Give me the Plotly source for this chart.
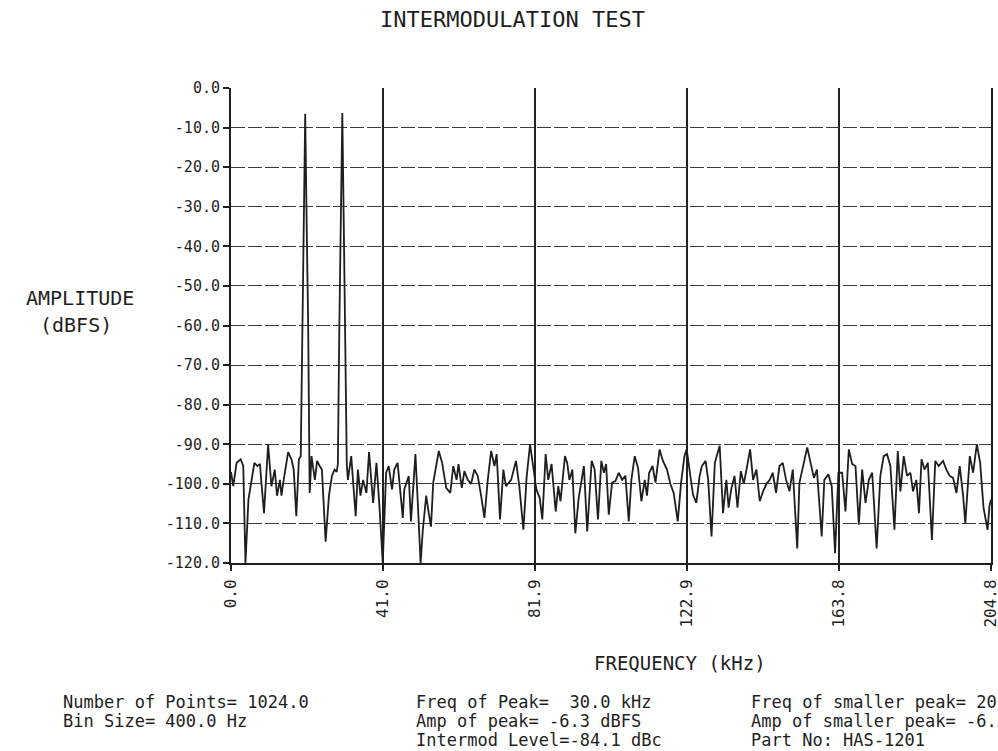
import plotly.graph_objects as go

# ---------------- data ----------------
freq_khz = [
    0.0, 0.6, 1.5, 2.6, 3.3, 3.9, 4.7, 5.5, 6.3, 7.1, 7.8, 8.2, 8.9, 10.0, 10.9,
    11.8, 12.4, 13.2, 13.6, 14.2, 15.4, 16.3, 16.9, 17.6, 18.3, 18.8, 19.2, 19.6,
    20.0, 20.4, 20.8, 21.2, 21.7, 22.6, 23.2, 23.9, 24.5, 25.5, 26.4, 27.2, 27.9,
    28.5, 28.8, 29.2, 29.6, 30.0, 30.4, 30.8, 31.2, 31.5, 32.4, 33.6, 34.2, 34.9,
    35.6, 36.5, 37.2, 38.3, 39.2, 40.0, 40.9, 41.8, 42.5, 43.4, 44.0, 44.9, 46.3,
    46.7, 47.9, 48.5, 49.7, 50.3, 51.1, 51.7, 52.6, 53.3, 53.9, 54.5, 56.0, 56.9,
    58.0, 59.1, 59.9, 60.8, 61.3, 62.2, 62.9, 63.8, 64.7, 65.6, 66.5, 67.4, 68.3,
    69.2, 70.1, 71.0, 71.6, 72.5, 73.4, 74.1, 75.5, 76.8, 77.7, 78.8, 79.7, 80.6,
    81.5, 82.3, 83.2, 83.9, 84.8, 85.5, 86.4, 87.5, 88.2, 88.8, 90.0, 90.6, 91.2,
    92.0, 92.8, 93.7, 95.1, 96.0, 97.2, 98.0, 98.9, 99.8, 100.5, 101.1, 101.8,
    102.7, 103.6, 104.5, 105.4, 106.3, 107.2, 107.9, 108.8, 109.7, 110.6, 111.5,
    112.1, 112.7, 113.6, 114.4, 115.5, 116.4, 117.5, 118.4, 119.3, 120.4, 121.3,
    122.2, 122.8, 123.6, 124.5, 125.4, 126.3, 126.9, 127.9, 128.6, 129.5, 130.4,
    131.3, 131.7, 132.6, 133.5, 134.1, 134.8, 135.7, 136.5, 137.4, 138.2, 139.1,
    139.9, 140.7, 141.6, 142.5, 143.4, 144.3, 145.2, 146.0, 146.9, 147.8, 148.7,
    149.6, 150.5, 151.4, 152.6, 153.2, 154.1, 155.3, 156.2, 157.1, 157.9, 159.2,
    159.9, 161.0, 161.9, 162.8, 163.7, 164.7, 165.6, 166.5, 167.4, 168.3, 169.2,
    170.1, 171.0, 171.9, 172.8, 174.0, 175.0, 175.9, 176.8, 177.7, 178.8, 179.7,
    180.4, 181.3, 182.2, 183.1, 183.8, 184.7, 185.4, 186.1, 186.9, 187.8, 188.9,
    189.8, 190.7, 191.9, 192.8, 193.7, 194.6, 195.5, 196.4, 197.3, 197.9, 199.1,
    200.0, 201.0, 201.9, 202.8, 203.9, 204.4, 204.8,
]
amp_dbfs = [
    -97.0, -100.6, -94.7, -93.8, -95.5, -120.0, -104.0, -99.0, -94.7, -95.5, -95.0,
    -99.7, -107.4, -90.0, -100.6, -96.4, -103.0, -99.0, -103.0, -99.0, -92.0, -93.8,
    -96.4, -108.2, -93.8, -93.0, -60.0, -35.0, -6.5, -35.0, -60.0, -102.3, -93.0,
    -99.0, -94.2, -95.5, -96.4, -114.6, -103.0, -98.0, -96.4, -97.0, -95.0, -60.0,
    -35.0, -6.3, -35.0, -60.0, -95.0, -99.0, -93.0, -108.2, -96.4, -103.0, -99.0,
    -102.3, -92.0, -104.8, -94.7, -105.6, -120.0, -97.2, -95.5, -101.4, -96.4,
    -94.7, -108.6, -101.4, -98.0, -109.5, -92.5, -104.0, -120.0, -111.6, -103.0,
    -107.4, -110.8, -99.7, -91.7, -94.7, -101.0, -102.3, -95.5, -99.0, -95.0,
    -101.0, -96.8, -99.0, -100.0, -96.4, -98.0, -103.0, -108.6, -99.0, -91.7,
    -95.5, -92.5, -109.0, -96.4, -100.6, -99.0, -94.2, -100.6, -111.6, -98.0,
    -90.0, -96.4, -101.4, -103.6, -109.0, -92.5, -99.0, -95.0, -107.0, -100.6,
    -104.4, -93.0, -94.7, -99.0, -96.4, -112.5, -103.6, -95.5, -112.0, -94.2,
    -96.4, -109.0, -94.2, -97.2, -95.0, -107.8, -99.7, -99.3, -97.2, -99.0, -98.0,
    -109.5, -99.0, -93.0, -96.0, -104.4, -99.0, -103.0, -97.2, -95.5, -99.7, -91.3,
    -94.2, -96.4, -100.0, -102.3, -109.5, -99.7, -93.0, -91.3, -96.4, -102.7,
    -104.8, -98.0, -95.5, -94.2, -99.0, -113.3, -94.7, -92.1, -90.4, -107.4, -99.0,
    -106.0, -101.4, -98.0, -106.0, -96.8, -100.0, -95.5, -91.3, -99.0, -96.4,
    -104.4, -101.9, -100.0, -99.0, -97.2, -102.3, -95.5, -94.7, -99.0, -101.9,
    -96.4, -116.3, -99.7, -95.5, -90.8, -94.7, -98.5, -96.4, -113.3, -99.0, -97.6,
    -100.6, -117.5, -97.2, -97.2, -107.0, -91.3, -95.0, -95.5, -110.3, -96.4,
    -104.8, -99.0, -97.2, -116.3, -98.0, -93.0, -92.5, -95.5, -111.6, -91.7,
    -101.9, -93.0, -98.0, -97.2, -101.9, -99.0, -107.4, -93.8, -96.4, -94.7,
    -114.2, -94.2, -95.5, -94.2, -96.4, -98.0, -98.5, -102.3, -95.5, -103.0,
    -110.0, -93.0, -97.2, -90.0, -94.7, -106.0, -111.6, -105.6, -104.0,
]

y_tick_vals = [0, -10, -20, -30, -40, -50, -60, -70, -80, -90, -100, -110, -120]
y_tick_text = ["0.0", "-10.0", "-20.0", "-30.0", "-40.0", "-50.0", "-60.0",
               "-70.0", "-80.0", "-90.0", "-100.0", "-110.0", "-120.0"]
x_tick_vals = [0.0, 40.96, 81.92, 122.88, 163.84, 204.8]
x_tick_text = ["0.0", "41.0", "81.9", "122.9", "163.8", "204.8"]

title_text = "INTERMODULATION TEST"
x_title = "FREQUENCY (kHz)"
y_title_lines = ["AMPLITUDE", "(dBFS)"]
info_col1 = ["Number of Points= 1024.0", "Bin Size= 400.0 Hz"]
info_col2 = ["Freq of Peak=  30.0 kHz", "Amp of peak= -6.3 dBFS", "Intermod Level=-84.1 dBc"]
info_col3 = ["Freq of smaller peak= 20.0 kHz", "Amp of smaller peak= -6.5 dBFS", "Part No: HAS-1201"]

# ---------------- layout geometry ----------------
W, H = 998, 751
ML, MR, MT, MB = 231, 7, 88, 188
PW, PH = W - ML - MR, H - MT - MB
FONT = "DejaVu Sans Mono"
INK = "#1e1e1e"


def px(xp):
    return (xp - ML) / PW


def py(yp):
    return (H - MB - yp) / PH


fig = go.Figure()
fig.add_trace(go.Scatter(
    x=freq_khz, y=amp_dbfs, mode="lines",
    line=dict(color=INK, width=1.8), showlegend=False, hoverinfo="skip",
))

annotations = []


def add_text(text, xp, yp, size, xanchor="center"):
    annotations.append(dict(
        text=text, x=px(xp), y=py(yp), xref="paper", yref="paper",
        xanchor=xanchor, yanchor="middle", showarrow=False, borderpad=0,
        font=dict(family=FONT, size=size, color=INK),
    ))


add_text(title_text, 512, 20, 22)
add_text(x_title, 680, 663, 19)
add_text(y_title_lines[0], 80, 298, 20)
add_text(y_title_lines[1], 76, 325, 20)
row_y = [702, 721, 740]
for i, t in enumerate(info_col1):
    add_text(t, 62, row_y[i], 17, "left")
for i, t in enumerate(info_col2):
    add_text(t, 415, row_y[i], 17, "left")
for i, t in enumerate(info_col3):
    add_text(t, 750, row_y[i], 17, "left")

fig.update_layout(
    width=W, height=H,
    margin=dict(l=ML, r=MR, t=MT, b=MB, pad=0, autoexpand=False),
    paper_bgcolor="white", plot_bgcolor="white",
    annotations=annotations,
    showlegend=False,
)
fig.update_xaxes(
    range=[0, 204.82], tickmode="array", tickvals=x_tick_vals, ticktext=x_tick_text,
    tickangle=-90, ticks="outside", ticklen=6, tickcolor=INK, tickwidth=1.5,
    ticklabelstandoff=2, ticklabeloverflow="allow", automargin=False,
    tickfont=dict(family=FONT, size=16, color=INK),
    showgrid=True, gridcolor="#222222", gridwidth=1.5,
    showline=True, linecolor=INK, linewidth=2, zeroline=False,
)
fig.update_yaxes(
    range=[-120, 0], tickmode="array", tickvals=y_tick_vals, ticktext=y_tick_text,
    ticks="outside", ticklen=6, tickcolor=INK, tickwidth=1.5, automargin=False,
    tickfont=dict(family=FONT, size=15, color=INK),
    showgrid=True, gridcolor="#3a3a3a", gridwidth=1.4, griddash="14px,3px",
    showline=True, mirror=True, linecolor=INK, linewidth=2, zeroline=False,
)

fig.write_html("out.html")
